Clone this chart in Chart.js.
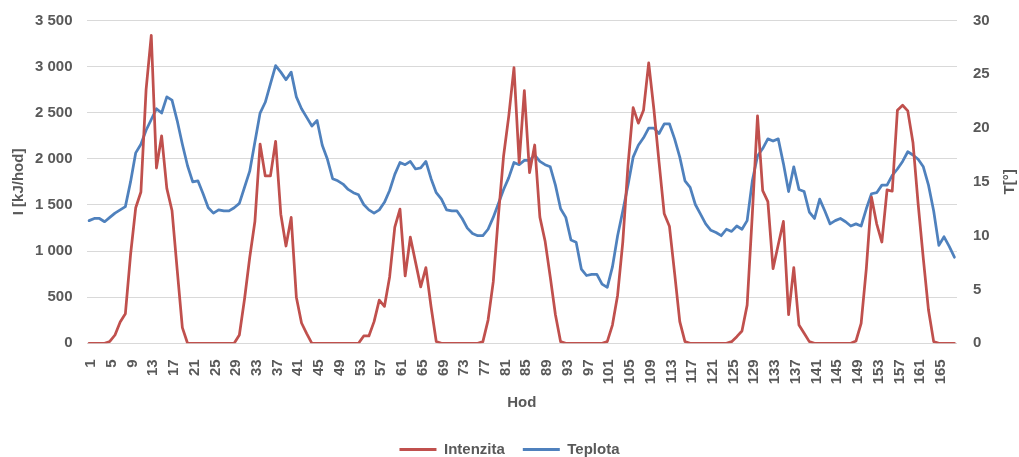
<!DOCTYPE html>
<html>
<head>
<meta charset="utf-8">
<script src="https://cdn.jsdelivr.net/npm/chart.js@4.4.1/dist/chart.umd.min.js"></script>
<style>
    html, body { margin: 0; padding: 0; background: #ffffff; }
    #wrap { width: 1019px; height: 457px; position: relative; }
</style>
</head>
<body>
<div id="wrap"><canvas id="weekChart"></canvas></div>
<script>
// ===== DATA =====
const hours = Array.from({ length: 168 }, (_, i) => String(i + 1));

// Intenzita [kJ/hod]
const intensity = [
    0, 0, 0, 0, 20, 90, 230, 320, 960, 1470, 1640, 2750, 3340, 1900, 2250, 1680, 1440, 800, 170, 0,
    0, 0, 0, 0, 0, 0, 0, 0, 0,
    90, 480, 930, 1320, 2160, 1815, 1815, 2190, 1400, 1055, 1365, 500, 220, 105, 0,
    0, 0, 0, 0, 0, 0, 0, 0, 0,
    80, 80, 235, 468, 400, 720, 1260, 1455, 730, 1150, 880, 612, 820, 396, 20,
    0, 0, 0, 0, 0, 0, 0, 0,
    18, 252, 666, 1386, 2034, 2466, 2990, 1960, 2740, 1850, 2150, 1368, 1110, 720, 310, 18,
    0, 0, 0, 0, 0, 0, 0, 0,
    18, 198, 522, 1098, 1926, 2556, 2387, 2527, 3040, 2538, 1962, 1404, 1270, 760, 234, 18,
    0, 0, 0, 0, 0, 0, 0, 0,
    18, 72, 133, 414, 1400, 2466, 1656, 1537, 810, 1069, 1321, 310, 821, 198, 108, 18,
    0, 0, 0, 0, 0, 0, 0, 0,
    25, 216, 810, 1584, 1296, 1098, 1663, 1649, 2527, 2581, 2520, 2178, 1512, 918, 360, 18,
    0, 0, 0, 0
];

// Teplota [°]
const temperature = [
    11.4, 11.6, 11.6, 11.3, 11.7, 12.1, 12.4, 12.7, 15.0, 17.7, 18.5, 19.8, 20.8, 21.8, 21.4, 22.9, 22.6, 20.7, 18.5, 16.5, 15.0, 15.1, 13.9, 12.6, 12.1,
    12.4, 12.3, 12.3, 12.6, 13.0, 14.5, 16.0, 18.7, 21.4, 22.4, 24.1, 25.8, 25.2, 24.5, 25.2, 22.9, 21.8, 21.0, 20.2, 20.7, 18.4, 17.1, 15.3, 15.1,
    14.8, 14.3, 14.0, 13.8, 12.9, 12.4, 12.1, 12.4, 13.1, 14.2, 15.7, 16.8, 16.6, 16.9, 16.2, 16.3, 16.9, 15.3, 14.0, 13.4, 12.4, 12.3, 12.3, 11.6,
    10.7, 10.2, 10.0, 10.0, 10.6, 11.7, 13.0, 14.3, 15.4, 16.8, 16.6, 17.0, 17.0, 17.5, 16.9, 16.6, 16.4, 14.7, 12.5, 11.7, 9.6, 9.4, 6.9, 6.3,
    6.4, 6.4, 5.5, 5.2, 7.1, 10.0, 12.3, 14.7, 17.3, 18.4, 19.1, 20.0, 20.0, 19.5, 20.4, 20.4, 19.0, 17.3, 15.1, 14.5, 12.9, 12.0, 11.1, 10.5,
    10.3, 10.0, 10.6, 10.4, 10.9, 10.6, 11.4, 15.1, 17.4, 18.1, 19.0, 18.8, 19.0, 16.7, 14.1, 16.4, 14.3, 14.1, 12.2, 11.6, 13.4, 12.3, 11.1, 11.4,
    11.6, 11.3, 10.9, 11.1, 10.9, 12.5, 13.9, 14.0, 14.7, 14.7, 15.6, 16.2, 16.9, 17.8, 17.5, 17.1, 16.4, 14.7, 12.3, 9.1, 9.9, 9.0, 8.0
];

const leftTicks = [0, 500, 1000, 1500, 2000, 2500, 3000, 3500];
const rightTicks = [0, 5, 10, 15, 20, 25, 30];

// ===== STYLE =====
const FONT = "'Liberation Sans', Arial, sans-serif";
const TEXT = '#595959';
const GRID = '#d9d9d9';
const RED = '#c0504d';
const BLUE = '#4f81bd';

// thousands separated by a space: 3 500
function fmt(v) {
    return String(v).replace(/\B(?=(\d{3})+(?!\d))/g, ' ');
}

// fixed axis width; the tick padding must not push the plot area down
function fixWidth(width) {
    return function (scale) {
        scale.width = width;
        scale.paddingTop = 0;
        scale.paddingBottom = 0;
    };
}

// right axis title reads bottom-to-top, so it is drawn here
const rightTitle = {
    id: 'rightTitle',
    afterDraw(chart) {
        const ctx = chart.ctx;
        const area = chart.chartArea;
        ctx.save();
        ctx.translate(chart.scales.y1.right - 9, (area.top + area.bottom) / 2);
        ctx.rotate(-Math.PI / 2);
        ctx.font = 'bold 15px ' + FONT;
        ctx.fillStyle = TEXT;
        ctx.textAlign = 'center';
        ctx.textBaseline = 'middle';
        ctx.fillText('T[°]', 0, 0);
        ctx.restore();
    }
};

const ctx = document.getElementById('weekChart');

new Chart(ctx, {
    type: 'line',
    data: {
        labels: hours,
        datasets: [
            {
                label: 'Intenzita',
                data: intensity,
                yAxisID: 'y',
                borderColor: RED,
                backgroundColor: RED,
                borderWidth: 2.75,
                borderJoinStyle: 'round',
                borderCapStyle: 'round',
                pointRadius: 0,
                tension: 0,
                fill: false
            },
            {
                label: 'Teplota',
                data: temperature,
                yAxisID: 'y1',
                borderColor: BLUE,
                backgroundColor: BLUE,
                borderWidth: 2.75,
                borderJoinStyle: 'round',
                borderCapStyle: 'round',
                pointRadius: 0,
                tension: 0,
                fill: false
            }
        ]
    },
    options: {
        responsive: true,
        maintainAspectRatio: false,
        animation: false,
        layout: { padding: { top: 20.5, left: 0, right: 0, bottom: -10 } },
        plugins: {
            tooltip: { enabled: false },
            legend: {
                display: true,
                position: 'bottom',
                labels: {
                    color: TEXT,
                    font: { family: FONT, size: 15, weight: 'bold' },
                    boxWidth: 37,
                    boxHeight: 3,
                    padding: 18,
                    generateLabels: function (chart) {
                        return Chart.defaults.plugins.legend.labels.generateLabels(chart).map(function (item) {
                            item.lineWidth = 0;
                            return item;
                        });
                    }
                }
            }
        },
        scales: {
            x: {
                offset: true,
                grid: { display: false, drawTicks: false },
                border: { display: false },
                afterFit: function (scale) { scale.height = 80.7; },
                ticks: {
                    autoSkip: false,
                    minRotation: 90,
                    maxRotation: 90,
                    padding: 16,
                    labelOffset: 2,
                    color: TEXT,
                    font: { family: FONT, size: 15, weight: 'bold' },
                    callback: function (value, index) {
                        return index % 4 === 0 ? hours[index] : '';
                    }
                },
                title: {
                    display: true,
                    text: 'Hod',
                    color: TEXT,
                    font: { family: FONT, size: 15, weight: 'bold' },
                    padding: { top: 4, bottom: 12 }
                }
            },
            y: {
                position: 'left',
                min: 0,
                max: 3500,
                afterFit: fixWidth(86.5),
                afterBuildTicks: function (scale) {
                    scale.ticks = leftTicks.map(v => ({ value: v }));
                },
                grid: { color: GRID, lineWidth: 1, drawTicks: false },
                border: { display: false },
                ticks: {
                    padding: 14,
                    color: TEXT,
                    font: { family: FONT, size: 15, weight: 'bold' },
                    callback: function (value) { return fmt(value); }
                },
                title: {
                    display: true,
                    text: 'I [kJ/hod]',
                    color: TEXT,
                    font: { family: FONT, size: 15, weight: 'bold' },
                    padding: { top: 10, bottom: 0 }
                }
            },
            y1: {
                position: 'right',
                min: 0,
                max: 30,
                afterFit: fixWidth(62),
                afterBuildTicks: function (scale) {
                    scale.ticks = rightTicks.map(v => ({ value: v }));
                },
                grid: { drawOnChartArea: false, drawTicks: false },
                border: { display: false },
                ticks: {
                    padding: 16,
                    color: TEXT,
                    font: { family: FONT, size: 15, weight: 'bold' }
                }
            }
        }
    },
    plugins: [rightTitle]
});
</script>
</body>
</html>
